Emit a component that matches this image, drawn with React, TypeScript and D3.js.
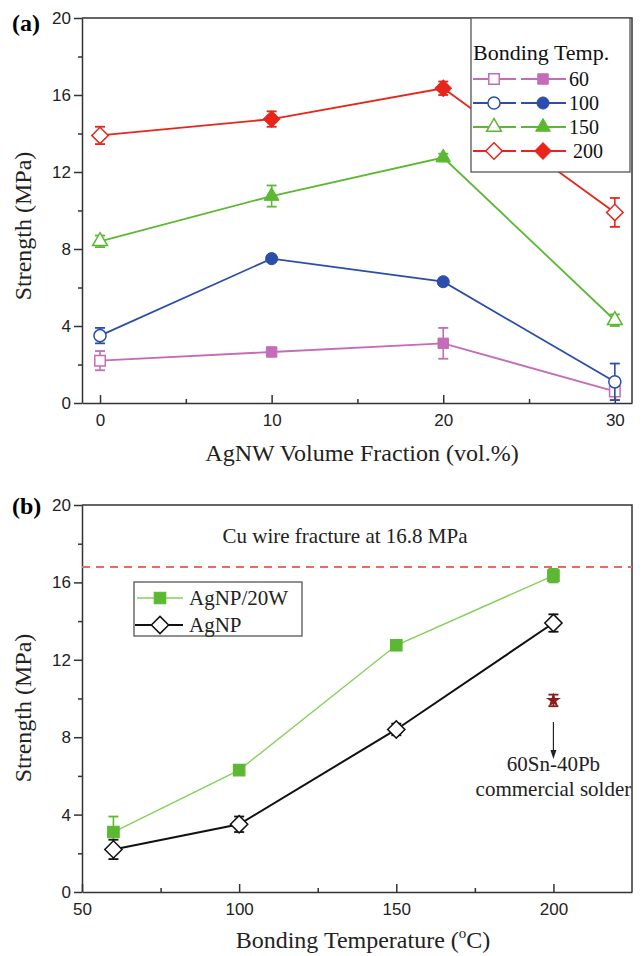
import React, { useEffect, useRef } from 'react';
import * as d3 from 'd3';

// panel (a): strength vs AgNW volume fraction, one series per bonding temp
const fractions = [0, 10, 20, 30];
const bondTemps = ['60', '100', '150', '200'];
const strength60 = [2.2, 2.65, 3.1, 0.6];
const err60 = [0.5, 0.15, 0.8, 0.45];
const strength100 = [3.5, 7.5, 6.3, 1.1];
const err100 = [0.4, 0.15, 0.15, 0.95];
const strength150 = [8.4, 10.75, 12.75, 4.3];
const err150 = [0.3, 0.55, 0.2, 0.3];
const strength200 = [13.9, 14.75, 16.35, 9.9];
const err200 = [0.45, 0.4, 0.35, 0.75];

// panel (b): strength vs bonding temperature
const temps = [60, 100, 150, 200];
const agnp20w = [3.1, 6.3, 12.75, 16.35];
const agnp20wErr = [0.8, 0.15, 0.2, 0.35];
const agnp = [2.2, 3.5, 8.4, 13.9];
const agnpErr = [0.5, 0.4, 0.3, 0.45];
const solderTemp = [200];
const solder = [9.9];
const solderErr = [0.3];
const cuFracture = 16.8;

const yTicks = [0, 4, 8, 12, 16, 20];
const yMinor = [2, 6, 10, 14, 18];
const fracTicks = [0, 10, 20, 30];
const fracMinor = [5, 15, 25];
const tempTicks = [50, 100, 150, 200];
const tempMinor = [75, 125, 175];

const SANS = 'Liberation Sans, Arial, sans-serif';
const SERIF = 'Liberation Serif, Times New Roman, serif';

const colors = ['#c46cb8', '#2a4eaa', '#5cb832', '#e6261c'];
const shapes = ['square', 'circle', 'triangle', 'diamond'];

function markerPath(shape: string) {
  if (shape === 'square') return d3.symbol().type(d3.symbolSquare).size(110)();
  if (shape === 'circle') return d3.symbol().type(d3.symbolCircle).size(115)();
  if (shape === 'triangle') return d3.symbol().type(d3.symbolTriangle).size(95)();
  return d3.symbol().type(d3.symbolSquare).size(135)();
}

function addMarker(g: any, shape: string, cx: number, cy: number, color: string, open: boolean, bigger = 1) {
  const rot = shape === 'diamond' ? ' rotate(45)' : '';
  g.append('path')
    .attr('d', markerPath(shape))
    .attr('transform', `translate(${cx},${cy})${rot} scale(${bigger})`)
    .attr('fill', open ? '#fff' : color)
    .attr('stroke', color)
    .attr('stroke-width', open ? 1.5 / bigger : 1);
}

function addErr(g: any, cx: number, y: any, v: number, e: number, color: string) {
  const y1 = y(v + e), y2 = y(v - e);
  g.append('line').attr('x1', cx).attr('x2', cx).attr('y1', y1).attr('y2', y2)
    .attr('stroke', color).attr('stroke-width', 1.6);
  [y1, y2].forEach((yy) => {
    g.append('line').attr('x1', cx - 5).attr('x2', cx + 5).attr('y1', yy).attr('y2', yy)
      .attr('stroke', color).attr('stroke-width', 1.8);
  });
}

function drawAxes(svg: any, x: any, y: any, xTicks: number[], xMinor: number[], top: number, bottom: number, left: number, right: number) {
  const gy = svg.append('g').attr('transform', `translate(${left},0)`);
  gy.call(d3.axisLeft(y).tickValues(yTicks).tickSizeInner(8).tickSizeOuter(0).tickPadding(3));
  const gym = svg.append('g').attr('transform', `translate(${left},0)`);
  gym.call(d3.axisLeft(y).tickValues(yMinor).tickSize(4).tickFormat(() => ''));
  gym.select('.domain').remove();

  const gx = svg.append('g').attr('transform', `translate(0,${bottom})`);
  gx.call(d3.axisBottom(x).tickValues(xTicks).tickSizeInner(-8).tickSizeOuter(0).tickPadding(11));
  const gxm = svg.append('g').attr('transform', `translate(0,${bottom})`);
  gxm.call(d3.axisBottom(x).tickValues(xMinor).tickSize(-4).tickFormat(() => ''));
  gxm.select('.domain').remove();

  [gy, gx].forEach((g) => g.selectAll('text').attr('font-family', SANS).attr('font-size', 17).attr('fill', '#222'));
  svg.selectAll('.domain, .tick line').attr('stroke', '#333').attr('stroke-width', 1.5);

  // box top + right
  svg.append('path')
    .attr('d', `M${left},${top}H${right}V${bottom}`)
    .attr('fill', 'none').attr('stroke', '#333').attr('stroke-width', 1.5);
}

function App() {
  const ref = useRef<SVGSVGElement>(null);

  useEffect(() => {
    document.body.style.margin = '0';
    const svg = d3.select(ref.current);
    svg.selectAll('*').remove();

    // ---------- panel (a) ----------
    const left = 82, right = 632;
    const aTop = 18, aBottom = 403;
    const xa = d3.scaleLinear().domain([-1.05, 31]).range([left, right]);
    const ya = d3.scaleLinear().domain([0, 20]).range([aBottom, aTop]);

    drawAxes(svg, xa, ya, fracTicks, fracMinor, aTop, aBottom, left, right);

    const aSeries = [
      [strength60, err60], [strength100, err100], [strength150, err150], [strength200, err200],
    ];
    const ga = svg.append('g');
    aSeries.forEach(([vals, errs], si) => {
      const line = d3.line<number>().x((d, i) => xa(fractions[i])).y((d) => ya(d));
      ga.append('path').attr('d', line(vals)).attr('fill', 'none')
        .attr('stroke', colors[si]).attr('stroke-width', 1.8);
    });
    aSeries.forEach(([vals, errs], si) => {
      vals.forEach((v, i) => {
        addErr(ga, xa(fractions[i]), ya, v, errs[i], colors[si]);
        addMarker(ga, shapes[si], xa(fractions[i]), ya(v), colors[si], i === 0 || i === 3);
      });
    });

    // legend (a)
    const lg = svg.append('g');
    lg.append('rect').attr('x', 471).attr('y', aTop).attr('width', 159).attr('height', 154)
      .attr('fill', '#fff').attr('stroke', '#555').attr('stroke-width', 1.3);
    lg.append('text').attr('x', 473).attr('y', 60).text('Bonding Temp.')
      .attr('font-family', SERIF).attr('font-size', 22).attr('fill', '#111');
    bondTemps.forEach((t, i) => {
      const yy = 79 + i * 24;
      lg.append('line').attr('x1', 473).attr('x2', 516).attr('y1', yy).attr('y2', yy)
        .attr('stroke', colors[i]).attr('stroke-width', 1.8);
      lg.append('line').attr('x1', 521).attr('x2', 566).attr('y1', yy).attr('y2', yy)
        .attr('stroke', colors[i]).attr('stroke-width', 1.8);
      addMarker(lg, shapes[i], 494, yy, colors[i], true);
      addMarker(lg, shapes[i], 543, yy, colors[i], false);
      lg.append('text').attr('x', i === 3 ? 573 : 569).attr('y', yy + 7).text(t)
        .attr('font-family', SERIF).attr('font-size', 20).attr('fill', '#111');
    });

    // labels (a)
    svg.append('text').attr('x', 12).attr('y', 31).text('(a)')
      .attr('font-family', SERIF).attr('font-weight', 'bold').attr('font-size', 24);
    svg.append('text').attr('transform', 'translate(31,226) rotate(-90)').attr('text-anchor', 'middle')
      .text('Strength (MPa)').attr('font-family', SERIF).attr('font-size', 24).attr('fill', '#222');
    svg.append('text').attr('x', 362).attr('y', 461).attr('text-anchor', 'middle')
      .text('AgNW Volume Fraction (vol.%)').attr('font-family', SERIF).attr('font-size', 24).attr('fill', '#222');

    // ---------- panel (b) ----------
    const bTop = 505, bBottom = 892;
    const xb = d3.scaleLinear().domain([50, 225]).range([left, right]);
    const yb = d3.scaleLinear().domain([0, 20]).range([bBottom, bTop]);

    drawAxes(svg, xb, yb, tempTicks, tempMinor, bTop, bBottom, left, right);

    const gb = svg.append('g');
    gb.append('line').attr('x1', left).attr('x2', right).attr('y1', yb(cuFracture)).attr('y2', yb(cuFracture))
      .attr('stroke', '#f0685a').attr('stroke-width', 2).attr('stroke-dasharray', '8,6');

    const lineB = d3.line<number>().x((d, i) => xb(temps[i])).y((d) => yb(d));
    gb.append('path').attr('d', lineB(agnp20w)).attr('fill', 'none').attr('stroke', '#86d05a').attr('stroke-width', 1.4);
    agnp20w.forEach((v, i) => {
      addErr(gb, xb(temps[i]), yb, v, agnp20wErr[i], '#5cb832');
      addMarker(gb, 'square', xb(temps[i]), yb(v), '#5cb832', false, 1.1);
    });
    gb.append('path').attr('d', lineB(agnp)).attr('fill', 'none').attr('stroke', '#111').attr('stroke-width', 2);
    agnp.forEach((v, i) => {
      addErr(gb, xb(temps[i]), yb, v, agnpErr[i], '#111');
      addMarker(gb, 'diamond', xb(temps[i]), yb(v), '#111', true, 1.05);
    });
    solder.forEach((v, i) => {
      addErr(gb, xb(solderTemp[i]), yb, v, solderErr[i], '#8b1c1c');
      gb.append('path').attr('d', d3.symbol().type(d3.symbolStar).size(70)())
        .attr('transform', `translate(${xb(solderTemp[i])},${yb(v)})`).attr('fill', '#8b1c1c');
    });

    // annotation arrow
    const ax = xb(solderTemp[0]);
    gb.append('line').attr('x1', ax).attr('x2', ax).attr('y1', 722).attr('y2', 752)
      .attr('stroke', '#222').attr('stroke-width', 1.2);
    gb.append('path').attr('d', `M${ax - 3},750L${ax + 3},750L${ax},759Z`).attr('fill', '#222');
    gb.append('text').attr('x', ax).attr('y', 771).attr('text-anchor', 'middle').text('60Sn-40Pb')
      .attr('font-family', SERIF).attr('font-size', 21).attr('fill', '#222');
    gb.append('text').attr('x', ax).attr('y', 796).attr('text-anchor', 'middle').text('commercial solder')
      .attr('font-family', SERIF).attr('font-size', 21).attr('fill', '#222');
    gb.append('text').attr('x', 345).attr('y', 543).attr('text-anchor', 'middle').text('Cu wire fracture at 16.8 MPa')
      .attr('font-family', SERIF).attr('font-size', 21).attr('fill', '#222');

    // legend (b)
    const lb = svg.append('g');
    lb.append('rect').attr('x', 134).attr('y', 582).attr('width', 168).attr('height', 54)
      .attr('fill', '#fff').attr('stroke', '#555').attr('stroke-width', 1.3);
    lb.append('line').attr('x1', 137).attr('x2', 183).attr('y1', 598).attr('y2', 598)
      .attr('stroke', '#86d05a').attr('stroke-width', 1.4);
    addMarker(lb, 'square', 160, 598, '#5cb832', false, 1.1);
    lb.append('line').attr('x1', 135).attr('x2', 183).attr('y1', 625).attr('y2', 625)
      .attr('stroke', '#111').attr('stroke-width', 2);
    addMarker(lb, 'diamond', 160, 625, '#111', true, 1.05);
    lb.append('text').attr('x', 189).attr('y', 605).text('AgNP/20W')
      .attr('font-family', SERIF).attr('font-size', 21).attr('fill', '#222');
    lb.append('text').attr('x', 189).attr('y', 632).text('AgNP')
      .attr('font-family', SERIF).attr('font-size', 21).attr('fill', '#222');

    // labels (b)
    svg.append('text').attr('x', 12).attr('y', 514).text('(b)')
      .attr('font-family', SERIF).attr('font-weight', 'bold').attr('font-size', 24);
    svg.append('text').attr('transform', 'translate(31,708) rotate(-90)').attr('text-anchor', 'middle')
      .text('Strength (MPa)').attr('font-family', SERIF).attr('font-size', 24).attr('fill', '#222');
    const xl = svg.append('text').attr('x', 363).attr('y', 948).attr('text-anchor', 'middle')
      .attr('font-family', SERIF).attr('font-size', 24).attr('fill', '#222');
    xl.append('tspan').text('Bonding Temperature (');
    xl.append('tspan').text('o').attr('font-size', 15).attr('dy', -10);
    xl.append('tspan').text('C)').attr('dy', 10);
  }, []);

  return <svg ref={ref} width={644} height={956} style={{ display: 'block', background: '#fff' }} />;
}

export default App;
